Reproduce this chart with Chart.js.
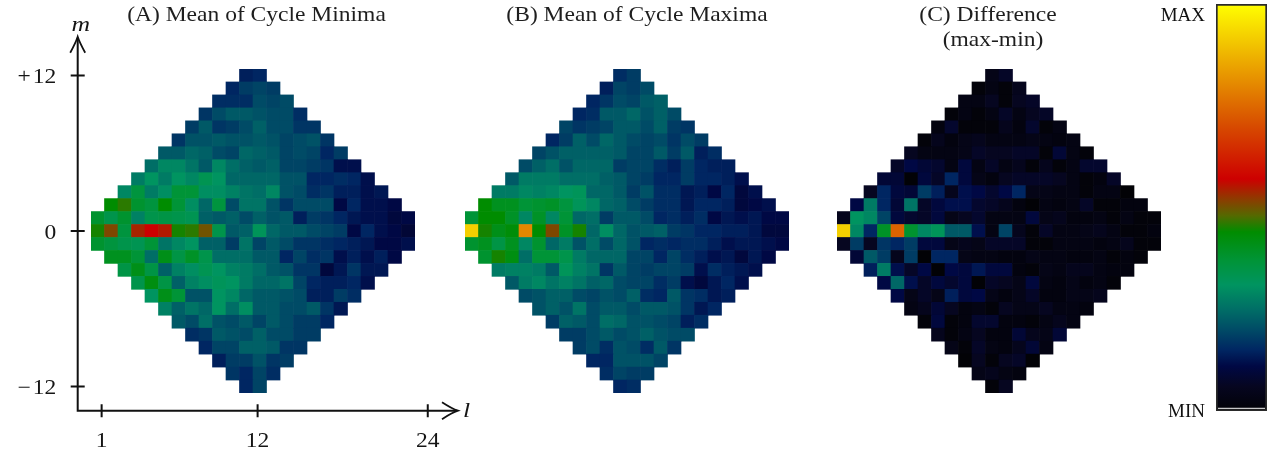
<!DOCTYPE html>
<html>
<head>
<meta charset="utf-8">
<title>Cycle minima / maxima harmonic amplitudes</title>
<script src="https://cdn.jsdelivr.net/npm/chart.js@4.4.1/dist/chart.umd.min.js"></script>
<style>
  html, body { margin: 0; padding: 0; background: #fff; }
  #figure { position: relative; width: 1278px; height: 455px; overflow: hidden; }
  #figure canvas { position: absolute; top: 0; }
</style>
</head>
<body>
<div id="figure">
  <canvas id="panelA" width="480" height="455" style="left:0px"></canvas>
  <canvas id="panelB" width="380" height="455" style="left:440px"></canvas>
  <canvas id="panelC" width="380" height="455" style="left:812px"></canvas>
  <canvas id="colorbar" width="128" height="455" style="left:1150px"></canvas>
</div>
<script>
// Orders m, top row first. Row i of each panel holds normalised amplitudes
// (0 = MIN, 100 = MAX) for degrees l = max(1, |m|), max(1, |m|)+1, ...
const M_ORDERS = [12, 11, 10, 9, 8, 7, 6, 5, 4, 3, 2, 1, 0, -1, -2, -3, -4, -5, -6, -7, -8, -9, -10, -11, -12];

const MINIMA = [
  [14, 15],
  [15, 18, 19, 18],
  [16, 16, 16, 20, 19, 20],
  [17, 20, 22, 22, 21, 20, 20, 16],
  [18, 22, 17, 18, 20, 23, 20, 20, 17, 17],
  [17, 21, 21, 22, 21, 21, 22, 21, 19, 20, 21, 17],
  [22, 22, 24, 23, 20, 19, 24, 23, 22, 19, 20, 19, 15, 18],
  [25, 29, 29, 26, 22, 29, 25, 23, 22, 23, 19, 19, 18, 17, 12, 12],
  [27, 31, 27, 31, 29, 33, 31, 24, 24, 24, 24, 21, 21, 15, 15, 16, 15, 12],
  [29, 36, 27, 30, 37, 37, 30, 30, 28, 26, 25, 29, 21, 20, 16, 17, 14, 14, 12, 13],
  [44, 46, 38, 36, 44, 37, 30, 24, 36, 20, 26, 26, 21, 17, 20, 20, 20, 11, 15, 12, 12, 11],
  [38, 34, 38, 28, 34, 35, 34, 33, 23, 22, 23, 20, 23, 21, 22, 14, 18, 17, 15, 13, 12, 12, 10, 11],
  [45, 51, 36, 54, 57, 55, 45, 46, 50, 34, 22, 23, 32, 24, 22, 22, 20, 19, 18, 11, 15, 12, 11, 9],
  [38, 36, 34, 33, 37, 26, 29, 31, 23, 23, 18, 26, 19, 22, 20, 17, 17, 16, 15, 14, 13, 11, 11, 12],
  [40, 40, 37, 25, 41, 35, 39, 34, 25, 25, 25, 22, 22, 15, 19, 16, 17, 12, 14, 12, 14, 11],
  [35, 41, 35, 23, 28, 30, 33, 31, 28, 27, 25, 22, 21, 17, 17, 10, 13, 17, 13, 13],
  [34, 42, 35, 23, 28, 30, 32, 31, 27, 24, 24, 26, 19, 15, 14, 14, 15, 12],
  [31, 41, 37, 21, 21, 31, 29, 24, 22, 22, 21, 20, 14, 14, 18, 16],
  [28, 23, 26, 24, 31, 25, 30, 22, 22, 20, 20, 22, 17, 13],
  [22, 20, 25, 21, 20, 22, 19, 22, 20, 18, 18, 15],
  [16, 17, 22, 21, 20, 23, 20, 20, 18, 18],
  [15, 19, 19, 23, 23, 22, 17, 17],
  [14, 18, 18, 21, 17, 18],
  [17, 15, 19, 16],
  [15, 19]
];

const MAXIMA = [
  [16, 18],
  [14, 19, 18, 20],
  [15, 17, 20, 19, 22, 23],
  [15, 16, 22, 22, 24, 21, 23, 20],
  [19, 17, 18, 19, 22, 22, 20, 23, 18, 17],
  [15, 18, 23, 20, 24, 22, 20, 19, 20, 17, 20, 18],
  [19, 21, 23, 23, 23, 23, 22, 19, 19, 22, 18, 22, 14, 16],
  [20, 23, 25, 21, 24, 24, 24, 18, 19, 19, 16, 14, 18, 15, 14, 14],
  [22, 27, 27, 27, 25, 25, 25, 23, 22, 19, 18, 15, 15, 18, 15, 15, 14, 12],
  [27, 27, 29, 28, 29, 31, 32, 24, 24, 22, 18, 21, 16, 16, 13, 14, 11, 15, 10, 12],
  [44, 40, 40, 37, 38, 39, 36, 32, 29, 24, 23, 20, 18, 16, 16, 13, 15, 15, 14, 10, 11, 12],
  [37, 44, 44, 39, 29, 39, 29, 37, 24, 25, 18, 22, 22, 20, 15, 16, 14, 16, 11, 13, 12, 13, 11, 11],
  [92, 45, 41, 43, 80, 44, 51, 39, 45, 24, 30, 24, 21, 22, 23, 18, 17, 15, 15, 14, 14, 13, 10, 10],
  [38, 40, 35, 40, 29, 38, 24, 27, 21, 25, 20, 24, 21, 15, 16, 15, 16, 16, 14, 12, 13, 13, 12, 11],
  [38, 45, 42, 25, 37, 37, 34, 27, 24, 24, 24, 19, 19, 15, 19, 16, 14, 12, 13, 10, 13, 11],
  [27, 28, 28, 27, 22, 32, 28, 26, 17, 22, 19, 18, 19, 19, 18, 12, 16, 14, 13, 12],
  [22, 27, 29, 26, 28, 26, 23, 24, 20, 19, 19, 16, 18, 12, 10, 13, 15, 12],
  [20, 21, 23, 23, 20, 19, 21, 20, 23, 16, 15, 22, 17, 16, 13, 14],
  [21, 23, 21, 26, 20, 22, 22, 20, 22, 22, 21, 17, 13, 15],
  [18, 23, 22, 20, 25, 24, 21, 21, 20, 19, 14, 16],
  [18, 18, 20, 22, 20, 21, 23, 21, 20, 20],
  [18, 20, 16, 21, 20, 16, 22, 17],
  [15, 15, 21, 21, 21, 19],
  [16, 19, 18, 18],
  [15, 16]
];

const DIFFERENCE = [
  [4, 7],
  [1, 3, 1, 5],
  [3, 3, 6, 1, 6, 7],
  [1, 3, 1, 3, 7, 3, 6, 7],
  [2, 8, 1, 1, 1, 5, 2, 8, 1, 3],
  [1, 5, 2, 4, 5, 3, 3, 3, 4, 3, 2, 3],
  [6, 3, 3, 3, 4, 7, 6, 6, 7, 7, 1, 9, 3, 1],
  [7, 11, 9, 8, 3, 10, 3, 7, 3, 5, 1, 5, 1, 3, 8, 8],
  [9, 9, 0, 10, 7, 15, 10, 4, 2, 6, 7, 7, 7, 6, 3, 1, 2, 7],
  [6, 15, 10, 9, 18, 14, 5, 12, 11, 8, 11, 15, 4, 4, 3, 3, 1, 3, 3, 0],
  [11, 27, 15, 9, 26, 7, 10, 12, 12, 8, 7, 5, 2, 0, 3, 2, 3, 7, 1, 1, 2, 2],
  [5, 31, 29, 19, 10, 8, 7, 10, 4, 6, 8, 3, 3, 3, 10, 4, 5, 2, 2, 3, 1, 3, 1, 1],
  [92, 29, 15, 39, 74, 38, 29, 32, 22, 22, 12, 3, 19, 5, 1, 7, 3, 3, 4, 5, 3, 1, 1, 2],
  [6, 18, 6, 17, 15, 18, 10, 10, 4, 5, 4, 7, 7, 7, 1, 1, 3, 3, 3, 2, 3, 5, 1, 1],
  [9, 22, 18, 5, 18, 0, 15, 15, 4, 3, 3, 2, 2, 4, 3, 3, 2, 2, 3, 1, 2, 1],
  [14, 27, 12, 7, 11, 0, 11, 10, 13, 10, 10, 2, 1, 4, 3, 5, 5, 3, 2, 2],
  [11, 24, 12, 7, 10, 8, 10, 0, 7, 6, 4, 10, 3, 2, 4, 2, 3, 1],
  [11, 4, 7, 4, 14, 10, 11, 4, 2, 4, 7, 2, 2, 4, 4, 5],
  [3, 5, 9, 6, 2, 3, 1, 6, 4, 4, 6, 3, 3, 2],
  [1, 10, 1, 2, 8, 8, 2, 2, 1, 3, 5, 3],
  [5, 1, 3, 6, 2, 2, 9, 5, 4, 9],
  [4, 1, 7, 3, 2, 5, 9, 3],
  [0, 6, 1, 6, 7, 0],
  [4, 5, 3, 2],
  [1, 6]
];

const L_TICKS = [1, 12, 24];
const M_TICKS = [12, 0, -12];
const TITLE_A = ['(A) Mean of Cycle Minima'];
const TITLE_B = ['(B) Mean of Cycle Maxima'];
const TITLE_C = ['(C) Difference', '(max-min)'];
const COLORBAR_LABELS = ['MIN', 'MAX'];
const COLORBAR_LEVELS = [-0.002, 0.97];

// Colour scale: black -> navy -> teal -> green -> red -> orange -> yellow
const COLOR_STOPS = [
  [0.00, [2, 2, 6]],
  [0.06, [6, 6, 32]],
  [0.11, [0, 8, 68]],
  [0.15, [0, 38, 98]],
  [0.20, [0, 75, 102]],
  [0.25, [0, 110, 102]],
  [0.31, [0, 148, 96]],
  [0.37, [0, 148, 55]],
  [0.44, [0, 140, 0]],
  [0.48, [85, 105, 0]],
  [0.52, [140, 60, 0]],
  [0.57, [205, 0, 0]],
  [0.70, [215, 75, 0]],
  [0.85, [235, 165, 0]],
  [1.00, [255, 255, 0]]
];

const rgb = c => `rgb(${Math.round(c[0])},${Math.round(c[1])},${Math.round(c[2])})`;

function colorAt(t) {
  t = Math.max(0, Math.min(1, t));
  for (let i = 1; i < COLOR_STOPS.length; i++) {
    const [t1, c1] = COLOR_STOPS[i];
    if (t <= t1) {
      const [t0, c0] = COLOR_STOPS[i - 1];
      const f = (t - t0) / (t1 - t0);
      return rgb(c0.map((v, k) => v + (c1[k] - v) * f));
    }
  }
  return rgb(COLOR_STOPS[COLOR_STOPS.length - 1][1]);
}

// One floating bar per (l, m) cell, spanning m-0.5 .. m+0.5
function cells(rows) {
  const out = [];
  rows.forEach((row, i) => {
    const m = M_ORDERS[i];
    const l0 = Math.max(1, Math.abs(m));
    row.forEach((v, k) => out.push({ x: l0 + k, y: [m - 0.5, m + 0.5], v }));
  });
  return out;
}

// Text is set slightly wide, like the rest of the figure
const SERIF = '"Liberation Serif", "Times New Roman", serif';
function drawText(ctx, str, x, y, font, align, stretch, color) {
  ctx.save();
  ctx.font = font;
  ctx.fillStyle = color || '#151515';
  ctx.textBaseline = 'alphabetic';
  ctx.textAlign = 'left';
  const sx = stretch || 1;
  const w = ctx.measureText(str).width * sx;
  const x0 = align === 'center' ? x - w / 2 : align === 'right' ? x - w : x;
  ctx.translate(x0, y);
  ctx.scale(sx, 1);
  ctx.fillText(str, 0, 0);
  ctx.restore();
}

const panelTitle = {
  id: 'panelTitle',
  afterDraw(chart, args, opts) {
    const { ctx, chartArea } = chart;
    const cx = (chartArea.left + chartArea.right) / 2 + (opts.dx || 0);
    opts.lines.forEach((line, i) => {
      drawText(ctx, line, cx + (opts.lineDx ? opts.lineDx[i] : 0), opts.baseline + i * opts.lineGap,
        `21px ${SERIF}`, 'center', 1.12, '#1e1e1e');
    });
  }
};

// Arrowed l / m axes of the first panel
const arrowAxes = {
  id: 'arrowAxes',
  afterDraw(chart) {
    const { ctx, chartArea, scales: { y, lx } } = chart;
    const ax = chartArea.left - 13.3;
    const ay = chartArea.bottom + 17.7;
    const topTip = 36.7;
    const rightTip = 458;
    ctx.save();
    ctx.strokeStyle = '#111';
    ctx.lineWidth = 2;
    ctx.lineCap = 'butt';
    ctx.beginPath();
    ctx.moveTo(ax, ay + 1); ctx.lineTo(ax, topTip + 1);
    ctx.moveTo(ax - 1, ay); ctx.lineTo(rightTip - 1, ay);
    ctx.stroke();
    // arrow heads
    ctx.lineWidth = 1.8;
    ctx.beginPath();
    ctx.moveTo(ax - 7.5, topTip + 16); ctx.quadraticCurveTo(ax - 2, topTip + 6, ax, topTip);
    ctx.quadraticCurveTo(ax + 2, topTip + 6, ax + 7.5, topTip + 16);
    ctx.moveTo(rightTip - 16, ay - 8.5); ctx.quadraticCurveTo(rightTip - 6, ay - 2, rightTip, ay);
    ctx.quadraticCurveTo(rightTip - 6, ay + 2, rightTip - 16, ay + 8.5);
    ctx.stroke();
    // ticks
    ctx.lineWidth = 2;
    ctx.beginPath();
    M_TICKS.forEach(v => {
      const py = y.getPixelForValue(v);
      ctx.moveTo(ax - 7, py); ctx.lineTo(ax + 7, py);
    });
    L_TICKS.forEach(v => {
      const px = lx.getPixelForValue(v);
      ctx.moveTo(px, ay - 6.5); ctx.lineTo(px, ay + 6.5);
    });
    ctx.stroke();
    ctx.restore();

    const tickFont = `21px ${SERIF}`;
    M_TICKS.forEach(v => {
      const label = v > 0 ? '+\u200A' + v : v < 0 ? '\u2212\u200A' + (-v) : '0';
      drawText(ctx, label, ax - 21.5, y.getPixelForValue(v) + 7.5, tickFont, 'right', 1.12);
    });
    L_TICKS.forEach(v => {
      drawText(ctx, String(v), lx.getPixelForValue(v), ay + 36, tickFont, 'center', 1.12);
    });
    drawText(ctx, 'm', ax + 3, 31, `italic 22px ${SERIF}`, 'center', 1.17);
    drawText(ctx, 'l', rightTip + 5, ay + 6, `italic 22px ${SERIF}`, 'left', 1.17);
  }
};

function panelChart(id, rows, padding, title, extraScales, extraPlugins) {
  return new Chart(document.getElementById(id), {
    type: 'bar',
    data: {
      datasets: [{
        data: cells(rows),
        xAxisID: 'x',
        yAxisID: 'y',
        backgroundColor: c => (c.raw ? colorAt(c.raw.v / 100) : '#000'),
        borderWidth: 0,
        barPercentage: 1,
        categoryPercentage: 1
      }]
    },
    options: {
      responsive: false,
      animation: false,
      events: [],
      devicePixelRatio: 1,
      layout: { padding },
      plugins: { legend: { display: false }, tooltip: { enabled: false }, panelTitle: title },
      scales: Object.assign({
        x: { type: 'linear', min: 0.5, max: 24.5, offset: false, display: false,
             ticks: { stepSize: 1, includeBounds: false } },
        y: { type: 'linear', min: -12.5, max: 12.5, display: false,
             ticks: { stepSize: 1, includeBounds: false } }
      }, extraScales || {})
    },
    plugins: [panelTitle].concat(extraPlugins || [])
  });
}

// The l axis of panel A carries its own scale for the tick marks 1, 12, 24
panelChart('panelA', MINIMA, { left: 91, right: 65, top: 69, bottom: 62 },
  { lines: TITLE_A, baseline: 21, lineGap: 25, dx: 3.5 },
  { lx: { type: 'linear', axis: 'x', position: 'bottom', display: false, offset: false,
          min: 0.25, max: 23.1, ticks: { includeBounds: false } } },
  [arrowAxes]);

panelChart('panelB', MAXIMA, { left: 25, right: 31, top: 69, bottom: 62 },
  { lines: TITLE_B, baseline: 21, lineGap: 25, dx: 10 });

panelChart('panelC', DIFFERENCE, { left: 25, right: 31, top: 69, bottom: 62 },
  { lines: TITLE_C, baseline: 21, lineGap: 25, dx: -11, lineDx: [0, 5] });

// Thin light rule just inside the bottom edge of the colour bar
const barFloorRule = {
  id: 'barFloorRule',
  afterDatasetsDraw(chart) {
    const { ctx, chartArea: a } = chart;
    ctx.save();
    ctx.strokeStyle = '#c8c8c8';
    ctx.lineWidth = 1.2;
    ctx.beginPath();
    ctx.moveTo(a.left + 2, a.bottom - 2.6);
    ctx.lineTo(a.right - 2, a.bottom - 2.6);
    ctx.stroke();
    ctx.restore();
  }
};

// Colour bar: a single floating bar from MIN (0) to MAX (1) filled with the scale
new Chart(document.getElementById('colorbar'), {
  type: 'bar',
  data: {
    labels: [''],
    datasets: [{
      data: [[0, 1]],
      backgroundColor: c => {
        const a = c.chart.chartArea;
        if (!a) return '#000';
        const g = c.chart.ctx.createLinearGradient(0, a.bottom, 0, a.top);
        COLOR_STOPS.forEach(([t, col]) => g.addColorStop(t, rgb(col)));
        return g;
      },
      borderColor: '#2a2a2a',
      borderWidth: 2,
      borderSkipped: false,
      barPercentage: 1,
      categoryPercentage: 1
    }]
  },
  options: {
    responsive: false,
    animation: false,
    events: [],
    devicePixelRatio: 1,
    layout: { padding: { top: 4, right: 11, bottom: 44, left: 0 } },
    plugins: { legend: { display: false }, tooltip: { enabled: false } },
    scales: {
      x: { display: false },
      y: {
        min: 0, max: 1, position: 'left',
        grid: { display: false, drawTicks: false },
        border: { display: false },
        afterBuildTicks: s => { s.ticks = COLORBAR_LEVELS.map(v => ({ value: v })); },
        afterFit: s => { s.width = 66; s.paddingTop = 0; s.paddingBottom = 0; },
        ticks: {
          padding: 11,
          color: '#111',
          font: { family: 'Liberation Serif', size: 19 },
          callback: (v, i) => COLORBAR_LABELS[i]
        }
      }
    }
  },
  plugins: [barFloorRule]
});
</script>
</body>
</html>
